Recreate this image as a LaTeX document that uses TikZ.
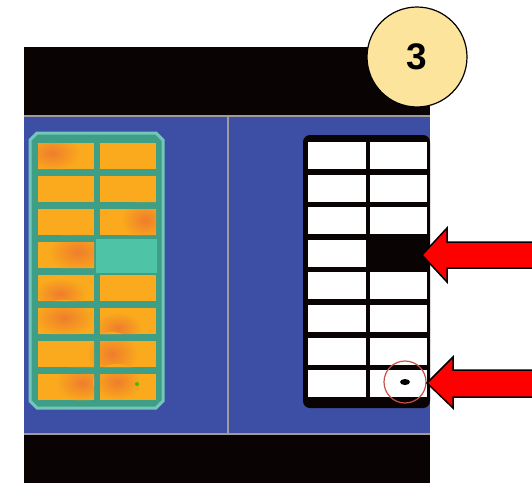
\documentclass[tikz,border=0pt]{standalone}
\usepackage{fontspec}
\setsansfont{Liberation Sans}
\definecolor{bandblack}{HTML}{0A0303}
\definecolor{plateblue}{HTML}{3C4FA5}
\definecolor{seamgray}{HTML}{A09A9A}
\definecolor{chiprim}{HTML}{72C8B8}
\definecolor{chipgap}{HTML}{3F9E86}
\definecolor{padorange}{HTML}{FAAA1C}
\definecolor{padhot}{HTML}{EF7D2C}
\definecolor{padteal}{HTML}{4EC3A6}
\definecolor{badgefill}{HTML}{FDE49C}
\definecolor{ringred}{HTML}{C8504A}

\begin{document}
\begin{tikzpicture}[x=1pt,y=-1pt,
  pad/.style={fill=padorange},
  well/.style={fill=white},
  hot/.style={inner color=padhot, outer color=padorange},
  pointer/.style={fill=red, draw=black, line width=1.5, line join=miter}]
\useasboundingbox (0,0) rectangle (532,483);

% photo background
\fill[bandblack] (24,47) rectangle (430,483);
\fill[plateblue] (24,117) rectangle (430,434);
\draw[seamgray, line width=1.5] (24,116) -- (430,116);
\draw[seamgray, line width=1.5] (24,434) -- (430,434);
\draw[seamgray, line width=1.5] (228,116) -- (228,434);

% thermal chip
\filldraw[fill=chipgap, draw=chiprim, line width=3] (37,133) -- (156,133) -- (163,140) -- (163,401)
  -- (156,408) -- (37,408) -- (30,401) -- (30,140) -- cycle;
\foreach \r in {0,...,7} {
  \fill[pad] (38,143+33*\r) rectangle (94,169+33*\r);
  \fill[pad] (100,143+33*\r) rectangle (156,169+33*\r);
}
\begin{scope}
  \clip \foreach \r in {0,...,7} {(38,143+33*\r) rectangle (94,169+33*\r) (100,143+33*\r) rectangle (156,169+33*\r)};
  \shade[hot] (52,153) ellipse (28 and 18);
  \shade[hot] (145,220) ellipse (24 and 20);
  \shade[hot] (78,252) ellipse (30 and 20);
  \shade[hot] (60,294) ellipse (26 and 16);
  \shade[hot] (64,318) ellipse (30 and 18);
  \shade[hot] (118,328) ellipse (24 and 16);
  \shade[hot] (112,354) ellipse (26 and 22);
  \shade[hot] (82,383) ellipse (26 and 18);
  \shade[hot] (117,382) ellipse (24 and 18);
\end{scope}
\fill[padteal] (96,239) rectangle (157,273);
\fill[green!50!olive] (137,384) circle (2);

% map of the chip
\fill[bandblack, rounded corners=7] (303,135) rectangle (430,408);
\foreach \r in {0,...,7} {
  \fill[well] (308,142+32.6*\r) rectangle (366,169+32.6*\r);
  \fill[well] (370,142+32.6*\r) rectangle (427,169+32.6*\r);
}
\fill[bandblack] (370,239) rectangle (430,271);
\draw[ringred, line width=1.2] (405,382) circle (21);
\fill (405,382) ellipse (5 and 3);

% arrows
\filldraw[pointer] (545,242) -- (447,242) -- (447,228) -- (422,255) -- (447,282) -- (447,268) -- (545,268) -- cycle;
\filldraw[pointer] (545,370) -- (453,370) -- (453,357) -- (427,383) -- (453,408) -- (453,397) -- (545,397) -- cycle;

\node[circle, draw, line width=1.2, fill=badgefill, minimum size=100, inner sep=0,
  font=\sffamily\bfseries\fontsize{37}{40}\selectfont] (badge) at (417,57) {3};
\end{tikzpicture}
\end{document}
